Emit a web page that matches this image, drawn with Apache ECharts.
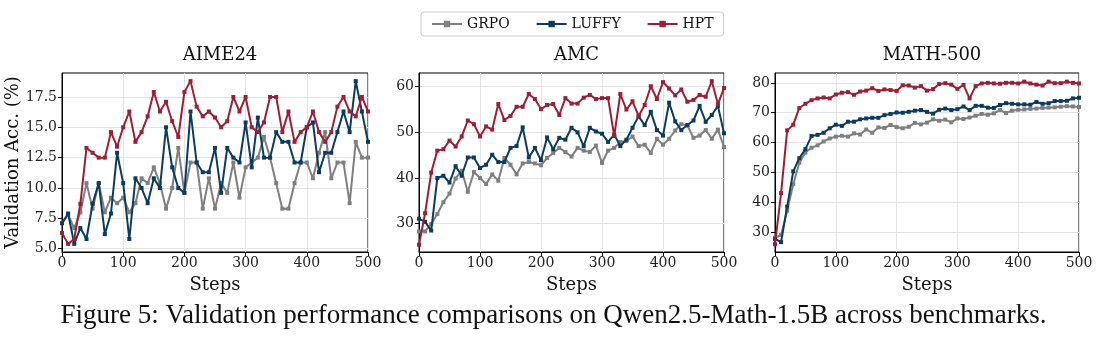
<!DOCTYPE html>
<html>
<head>
<meta charset="utf-8">
<script src="https://cdn.jsdelivr.net/npm/echarts@6/dist/echarts.min.js"></script>
<style>
html,body{margin:0;padding:0;background:#fff;}
#main{width:1107px;height:340px;}
</style>
</head>
<body>
<div id="main"></div>
<script>
// ---- data ----
const steps = [0,10,20,30,40,50,60,70,80,90,100,110,120,130,140,150,160,170,180,190,200,210,220,230,240,250,260,270,280,290,300,310,320,330,340,350,360,370,380,390,400,410,420,430,440,450,460,470,480,490,500];
const seriesNames = ['GRPO','LUFFY','HPT'];
const panelTitles = ['AIME24','AMC','MATH-500'];

const aimeGRPO = [7.1,7.8,6.7,8.0,10.4,8.3,10.4,8.0,9.2,8.75,9.2,8.0,8.75,10.8,10.4,11.7,10.4,8.3,10.0,13.3,9.6,12.1,12.1,8.3,10.8,8.3,10.4,9.6,12.1,9.2,11.7,12.1,12.5,14.2,12.5,10.4,8.3,8.3,10.4,12.1,12.1,10.8,12.9,14.6,10.8,12.1,12.1,8.75,13.8,12.5,12.5];
const aimeLUFFY = [7.1,7.9,5.4,6.7,5.8,8.7,10.4,6.2,7.9,12.9,10.4,5.8,10.8,10.0,8.75,10.8,10.0,15.0,11.7,10.0,9.6,16.3,12.1,11.3,11.3,13.3,9.6,13.3,12.5,12.1,15.4,11.7,15.8,12.5,12.5,14.6,13.8,13.8,12.1,12.1,15.0,15.4,11.3,12.9,12.9,14.6,16.3,14.6,18.8,16.3,13.8];
const aimeHPT = [6.3,5.4,5.8,8.7,13.3,12.9,12.5,12.5,14.6,13.4,15.0,16.3,13.8,14.6,15.9,17.9,16.3,17.1,15.5,14.2,17.9,18.8,16.7,15.9,16.3,15.8,15.0,15.5,17.5,16.3,17.5,15.0,14.6,15.4,17.5,17.5,14.6,16.3,13.8,14.6,15.0,16.3,14.6,13.8,14.6,16.7,17.5,16.3,15.9,17.5,16.3];

const amcGRPO = [28.3,28.3,29.9,32.1,34.7,36.6,39.9,41.6,37.0,41.3,40.0,38.7,40.8,39.4,44.4,42.9,40.8,43.2,43.5,43.2,42.8,44.4,45.5,46.6,45.7,44.7,46.6,46.0,45.7,47.1,43.3,46.0,46.6,47.9,48.1,49.1,47.0,47.3,45.5,48.6,47.3,48.6,50.4,51.8,51.5,48.8,49.3,50.5,48.6,50.6,46.8];
const amcLUFFY = [31.1,30.4,28.5,40.0,40.5,39.0,42.6,40.5,44.5,44.5,42.2,42.9,45.1,43.5,43.5,46.6,47.0,51.1,44.5,46.6,43.9,48.9,46.3,48.8,48.4,51.0,50.0,47.0,51.0,50.2,49.7,47.9,49.5,47.0,48.4,51.0,53.5,51.6,54.5,50.5,49.3,56.5,52.4,50.5,51.6,52.6,55.8,52.3,53.8,55.8,49.8];
const amcHPT = [25.4,32.3,41.2,46.0,46.3,48.2,46.9,49.1,52.6,51.8,49.1,51.3,50.6,56.2,52.7,53.6,55.6,55.6,58.4,57.3,55.1,56.0,56.2,53.8,57.5,56.3,56.3,57.6,58.2,57.3,57.5,57.5,49.2,58.4,55.0,56.8,53.6,56.0,60.1,57.3,61.0,59.6,58.1,59.4,56.7,57.1,58.2,57.8,61.2,56.2,59.7];

const mathGRPO = [28.2,29.1,37.2,46.1,53.3,56.7,58.3,59.1,60.4,61.4,62.0,62.3,62.0,63.1,62.7,64.4,63.3,65.1,64.9,65.9,65.2,64.8,65.3,66.6,66.1,66.7,67.8,67.3,67.7,66.8,68.1,67.9,68.4,69.0,69.6,69.3,69.8,70.9,69.9,70.7,71.0,71.1,71.3,71.4,71.6,71.7,71.8,72.0,72.2,72.1,71.9];
const mathLUFFY = [27.8,26.7,38.6,50.4,54.8,57.8,62.2,62.6,63.3,64.8,66.0,65.6,67.0,67.0,67.8,68.1,68.3,68.3,69.2,69.6,70.1,70.0,70.3,70.7,70.9,70.3,69.7,71.0,71.4,70.9,71.2,72.1,70.9,72.3,72.3,71.7,71.6,72.6,73.2,73.0,72.8,72.8,72.7,73.6,73.0,73.2,73.9,73.9,74.0,74.8,75.0];
const mathHPT = [26.0,43.1,64.1,66.0,71.6,73.0,74.2,74.8,75.1,74.8,76.1,76.7,76.9,76.0,77.1,77.4,78.2,77.3,77.8,77.6,77.3,79.2,79.1,78.4,78.9,77.4,77.9,79.6,79.9,79.4,78.0,79.3,74.8,78.9,79.8,80.0,79.8,79.7,80.0,80.0,79.8,80.4,79.8,79.4,79.1,80.4,79.9,79.9,80.4,80.0,79.8];

const aimeTicks = [5.0,7.5,10.0,12.5,15.0,17.5];
const amcTicks = [30,40,50,60];
const mathTicks = [30,40,50,60,70,80];
const xTicks = [0,100,200,300,400,500];

const captionText = 'Figure 5: Validation performance comparisons on Qwen2.5-Math-1.5B across benchmarks.';

// ---- chart ----
const colors = ['#7f7f7f', '#0d3b5e', '#9c1f35'];
const FONT = 'DejaVu Serif';

const panels = [
  {left: 62, width: 306, min: 4.73, max: 19.47, ticks: aimeTicks, dec: 1, data: [aimeGRPO, aimeLUFFY, aimeHPT]},
  {left: 419, width: 305, min: 23.8, max: 63.0, ticks: amcTicks, dec: 0, data: [amcGRPO, amcLUFFY, amcHPT]},
  {left: 775, width: 304, min: 23.4, max: 83.3, ticks: mathTicks, dec: 0, data: [mathGRPO, mathLUFFY, mathHPT]}
];

const grids = [], xAxes = [], yAxes = [], series = [], titles = [];
panels.forEach((p, i) => {
  grids.push({left: p.left, width: p.width, top: 73, height: 179, show: true, borderColor: '#000', borderWidth: 1,
    backgroundColor: 'transparent', containLabel: false, outerBoundsMode: 'none'});
  xAxes.push({
    type: 'value', gridIndex: i, min: 0, max: 500, interval: 100,
    name: 'Steps', nameLocation: 'middle', nameGap: 24,
    nameTextStyle: {fontFamily: FONT, fontSize: 18, color: '#111'},
    axisLine: {show: true, onZero: false, lineStyle: {color: '#000', width: 1}},
    axisTick: {show: true, length: 4, lineStyle: {color: '#000'}},
    axisLabel: {fontFamily: FONT, fontSize: 14, color: '#222', margin: 4},
    splitLine: {show: true, lineStyle: {color: '#e3e3e3', width: 1}}
  });
  yAxes.push({
    type: 'value', gridIndex: i, min: p.min, max: p.max,
    name: i === 0 ? 'Validation Acc. (%)' : '', nameLocation: 'middle', nameGap: 37,
    nameTextStyle: {fontFamily: FONT, fontSize: 18, color: '#111'},
    axisLine: {show: true, lineStyle: {color: '#000', width: 1}},
    axisTick: {show: true, length: 4, lineStyle: {color: '#000'}, customValues: p.ticks},
    axisLabel: {fontFamily: FONT, fontSize: 14, color: '#222', margin: 5, customValues: p.ticks,
      formatter: v => Number(v).toFixed(p.dec)},
    splitLine: {show: true, lineStyle: {color: '#e3e3e3', width: 1}}
  });
  titles.push({text: panelTitles[i], left: p.left + p.width / 2, top: 41, textAlign: 'center',
    textStyle: {fontFamily: FONT, fontSize: 18, fontWeight: 'normal', color: '#111'}});
  p.data.forEach((d, k) => {
    series.push({
      name: seriesNames[k], type: 'line', xAxisIndex: i, yAxisIndex: i,
      data: steps.map((s, j) => [s, d[j]]),
      symbol: 'rect', symbolSize: 4, showSymbol: true,
      lineStyle: {color: colors[k], width: 2},
      itemStyle: {color: colors[k]},
      emphasis: {disabled: true}, animation: false, z: 2 + k
    });
  });
});

const chart = echarts.init(document.getElementById('main'), null, {renderer: 'canvas'});
chart.setOption({
  animation: false,
  backgroundColor: '#fff',
  title: titles,
  legend: {
    data: seriesNames, top: 12, left: 421,
    itemWidth: 30, itemHeight: 8, itemGap: 26,
    padding: [5, 10, 5, 10],
    borderColor: '#cccccc', borderWidth: 1, borderRadius: 3,
    textStyle: {fontFamily: FONT, fontSize: 14, color: '#111'}
  },
  grid: grids, xAxis: xAxes, yAxis: yAxes, series: series,
  graphic: [{
    type: 'text', left: 'center', top: 302,
    style: {text: captionText, font: '27px "Liberation Serif"', fill: '#111'}
  }]
});
</script>
</body>
</html>
